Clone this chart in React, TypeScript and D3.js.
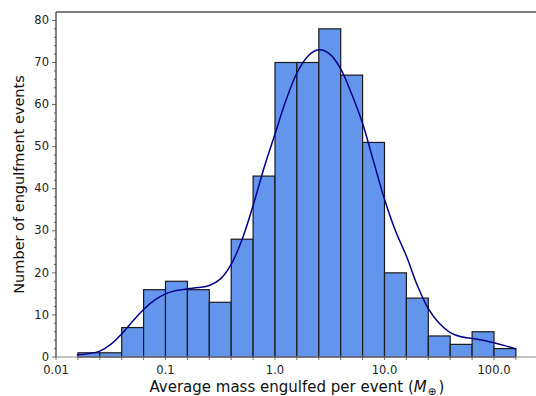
import * as d3 from "d3";
import React from "react";

// histogram counts per bin (bins are 0.2 dex wide in log10 of mass)
const binFirstExp = -1.8;
const binWidthExp = 0.2;
const counts = [1, 1, 7, 16, 18, 16, 13, 28, 43, 70, 70, 78, 67, 51, 20, 14, 5, 3, 6, 2];

// KDE curve (log10 mass, count)
const kdeLogX = [-1.81, -1.7, -1.6, -1.5, -1.4, -1.3, -1.2, -1.1, -1.0, -0.9, -0.8, -0.7, -0.6, -0.5, -0.4, -0.3, -0.2, -0.1, 0.0, 0.1, 0.2, 0.3, 0.4, 0.5, 0.6, 0.7, 0.8, 0.9, 1.0, 1.1, 1.2, 1.3, 1.4, 1.5, 1.6, 1.7, 1.8, 1.9, 2.0, 2.1, 2.2];
const kdeY = [0.5, 0.8, 1.4, 3.0, 5.5, 8.5, 11.3, 13.5, 15.0, 15.8, 16.2, 16.5, 17.0, 18.5, 22.0, 28.0, 36.0, 45.0, 53.0, 61.0, 67.5, 71.5, 73.0, 72.0, 68.5, 62.5, 55.5, 46.5, 37.5, 30.0, 24.0, 17.0, 11.5, 8.0, 5.8, 4.8, 4.4, 4.0, 3.4, 2.7, 1.9];

const xTickValues = [0.01, 0.1, 1, 10, 100];
const xTickLabels = ["0.01", "0.1", "1.0", "10.0", "100.0"];
const yTickValues = [0, 10, 20, 30, 40, 50, 60, 70, 80];

const W = 536, H = 396;
const m = { l: 56, t: 12, b: 39 };

export default function App() {
  const x = d3.scaleLog().domain([0.01, Math.pow(10, 2.4)]).range([m.l, m.l + 109.5 * 4.4]);
  const y = d3.scaleLinear().domain([0, 80.1]).range([H - m.b, 20]);

  const bars = counts.map((c, i) => {
    const lo = Math.pow(10, binFirstExp + i * binWidthExp);
    const hi = Math.pow(10, binFirstExp + (i + 1) * binWidthExp);
    return { lo, hi, c };
  });

  const line = d3.line<[number, number]>()
    .x(d => x(Math.pow(10, d[0])))
    .y(d => y(d[1]))
    .curve(d3.curveCatmullRom);
  const kdePts = kdeLogX.map((v, i) => [v, kdeY[i]] as [number, number]);

  const minorX = d3.range(-2, 2.41, 0.2).map(e => Math.pow(10, e));
  const minorY = d3.range(0, 81, 2);
  const x0 = x.range()[0], x1 = x.range()[1];
  const yBottom = y(0), yTop = m.t;

  return (
    <svg width={W} height={H} style={{ position: "absolute", left: 0, top: 0 }}
      fontFamily="DejaVu Sans, sans-serif">
      <rect width={W} height={H} fill="white" />
      {bars.map((b, i) => (
        <rect key={i} x={x(b.lo)} width={x(b.hi) - x(b.lo)} y={y(b.c)} height={yBottom - y(b.c)}
          fill="#6495ED" stroke="#1a1a1a" strokeWidth={1.2} />
      ))}
      <path d={line(kdePts) || ""} fill="none" stroke="#00008B" strokeWidth={1.5} />

      {/* spines */}
      <line x1={x0} x2={x1} y1={yTop} y2={yTop} stroke="black" strokeWidth={1.2} />
      <line x1={x0} x2={x0} y1={yTop} y2={yBottom} stroke="#333" strokeWidth={1.2} />
      <line x1={x0} x2={x1} y1={yBottom} y2={yBottom} stroke="#888" strokeWidth={1.2} />

      {/* x ticks */}
      {minorX.map((v, i) => (
        <line key={"mx" + i} x1={x(v)} x2={x(v)} y1={yBottom} y2={yBottom + 3} stroke="#555" strokeWidth={0.8} />
      ))}
      {xTickValues.map((v, i) => (
        <text key={"xt" + i} x={x(v)} y={yBottom + 17} fontSize={11.5} textAnchor="middle" fill="#222">{xTickLabels[i]}</text>
      ))}

      {/* y ticks */}
      {minorY.map(v => (
        <line key={"my" + v} x1={x0 - (v % 10 === 0 ? 4 : 2)} x2={x0} y1={y(v)} y2={y(v)} stroke="#444" strokeWidth={0.8} />
      ))}
      {yTickValues.map(v => (
        <text key={"yt" + v} x={x0 - 7} y={y(v)} dy="0.32em" fontSize={11.5} textAnchor="end" fill="#222">{v}</text>
      ))}

      {/* axis labels */}
      <text transform={`translate(${19},${(yTop + yBottom) / 2}) rotate(-90)`} textAnchor="middle" fontSize={14.5} fill="#111" dy="0.35em">
        Number of engulfment events
      </text>
      <text x={(x0 + x1) / 2} y={H - 4} textAnchor="middle" fontSize={15} fill="#111">
        Average mass engulfed per event (<tspan fontStyle="italic">M</tspan><tspan fontSize={10.5} dx={1} dy={3}>⊕</tspan><tspan dx={2} dy={-3}>)</tspan>
      </text>
    </svg>
  );
}
